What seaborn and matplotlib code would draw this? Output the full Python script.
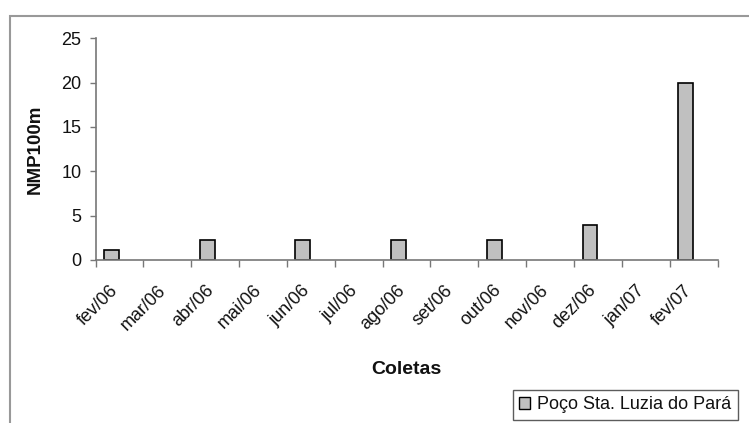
import matplotlib
matplotlib.use("Agg")
import matplotlib.pyplot as plt
import seaborn as sns
import pandas as pd
from matplotlib.patches import Patch, Rectangle
from matplotlib.transforms import ScaledTranslation

categories = ["fev/06", "mar/06", "abr/06", "mai/06", "jun/06", "jul/06", "ago/06",
              "set/06", "out/06", "nov/06", "dez/06", "jan/07", "fev/07"]
values = [1.1, 0, 2.2, 0, 2.2, 0, 2.2, 0, 2.2, 0, 4.0, 0, 20.0]
series_name = "Poço Sta. Luzia do Pará"
y_ticks = [0, 5, 10, 15, 20, 25]

df = pd.DataFrame({"Coletas": categories, "NMP100m": values})

sns.set_theme(style="white")
plt.rcParams["font.family"] = ["Liberation Sans", "DejaVu Sans"]

fig = plt.figure(figsize=(7.49, 4.23), dpi=100)
ax = fig.add_axes([95.5 / 749, 1 - 260 / 423, (717.5 - 95.5) / 749, (260 - 38.3) / 423])

sns.barplot(data=df, x="Coletas", y="NMP100m", order=categories, ax=ax,
            color="#c0c0c0", edgecolor="black", linewidth=1.2, width=0.31,
            saturation=1)
for p in ax.patches:
    p.set_x(p.get_x() - 0.165)
    if p.get_height() == 0:
        p.set_visible(False)

ax.set_xlim(-0.5, len(categories) - 0.5)
ax.set_ylim(0, 25)
ax.set_yticks(y_ticks)
ax.set_yticklabels([str(t) for t in y_ticks], fontsize=13)
ax.tick_params(axis="y", length=4, width=1, color="#777777", direction="out", pad=6, left=True,
               labelcolor="#111111")
ax.tick_params(axis="x", which="major", length=0, pad=20, labelcolor="#111111")
ax.set_xticks([i - 0.5 for i in range(len(categories) + 1)], minor=True)
ax.tick_params(axis="x", which="minor", length=5, width=1, color="#777777", direction="out", bottom=True)
ax.set_xticklabels(categories, rotation=45, ha="right", va="center", rotation_mode="anchor", fontsize=13)
off = ScaledTranslation(-4 / 100, 0, fig.dpi_scale_trans)
for lab in ax.get_xticklabels():
    lab.set_transform(lab.get_transform() + off)

for s in ["top", "right"]:
    ax.spines[s].set_visible(False)
for s in ["left", "bottom"]:
    ax.spines[s].set_color("#777777")
    ax.spines[s].set_linewidth(1.2)

ax.set_ylabel("NMP100m", fontsize=13.5, fontweight="bold", labelpad=13, color="#111111")
ax.set_xlabel("Coletas", fontsize=14, fontweight="bold", labelpad=20, color="#111111")

# outer chart frame
fig.patches.append(Rectangle((10 / 749, -0.1), 1.2, 1 - 16 / 423 + 0.1,
                             transform=fig.transFigure, fill=False,
                             edgecolor="#999999", linewidth=1.5))

handle = Patch(facecolor="#c0c0c0", edgecolor="black", linewidth=1)
leg = fig.legend([handle], [series_name], loc="upper left",
                 bbox_to_anchor=(513 / 749, 1 - 390 / 423), bbox_transform=fig.transFigure,
                 frameon=True, fancybox=False, fontsize=13, handlelength=0.6,
                 handleheight=0.6, handletextpad=0.4, borderpad=0.35, borderaxespad=0)
leg.get_frame().set_edgecolor("#333333")
leg.get_frame().set_linewidth(1)
for t in leg.get_texts():
    t.set_color("#111111")

fig.savefig("out.png", dpi=100)
